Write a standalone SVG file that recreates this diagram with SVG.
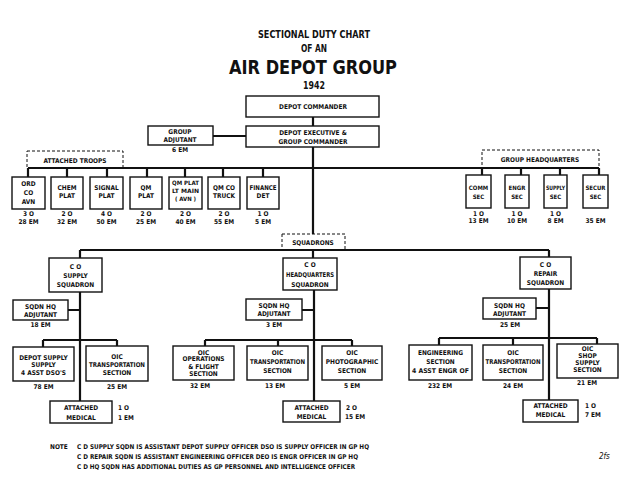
<svg xmlns="http://www.w3.org/2000/svg" width="640" height="479" viewBox="0 0 640 479">
<style>
text{font-family:"Liberation Sans Narrow","DejaVu Sans Condensed","Liberation Sans",sans-serif;font-weight:bold;fill:#111;text-anchor:middle;font-size:6.5px}
.box{fill:#fff;stroke:#111;stroke-width:1.4}
.dash{fill:none;stroke:#111;stroke-width:1;stroke-dasharray:3,2}
.ln{fill:none;stroke:#111;stroke-width:2.2}
.l{text-anchor:start}
.s{font-size:6px}
.t1{font-size:11px}
.t2{font-size:20px}
</style>
<rect width="640" height="479" fill="#fff"/>
<g id="title">
<text x="314" y="38" class="t1" textLength="112" lengthAdjust="spacingAndGlyphs">SECTIONAL DUTY CHART</text>
<text x="314" y="52" class="t1" textLength="26" lengthAdjust="spacingAndGlyphs">OF AN</text>
<text x="313" y="74" class="t2" textLength="168" lengthAdjust="spacingAndGlyphs">AIR DEPOT GROUP</text>
<text x="314" y="89" class="t1" textLength="22" lengthAdjust="spacingAndGlyphs">1942</text>
</g>
<g id="connectors">
<path class="ln" d="M313 117V126M313 147V234M313 250V258M213 136H246"/>
<path class="ln" d="M28 168H313M28 168V177M67 168V177M107 168V177M147 168V177M185 168V177M223 168V177M263 168V177"/>
<path class="ln" d="M313 168H599M482 168V175M521 168V175M560 168V175M599 168V175"/>
<path class="ln" d="M80 250H549M80 250V258M549 250V257"/>
<path class="ln" d="M80 292V401M68 310H80M43 340H117M43 340V347M117 340V346"/>
<path class="ln" d="M314 290V401M302 310H314M205 340H352M205 340V346M278 340V346M352 340V346"/>
<path class="ln" d="M549 289V400M536 308H549M439 338H597M439 338V345M513 338V345M597 338V344"/>
</g>
<g id="depot-commander"><rect class="box" x="246" y="96" width="133" height="21"/><text x="313" y="109">DEPOT  COMMANDER</text></g>
<g id="depot-executive"><rect class="box" x="246" y="126" width="133" height="21"/><text x="313" y="135">DEPOT EXECUTIVE &amp;</text><text x="313" y="144">GROUP COMMANDER</text></g>
<g id="group-adjutant"><rect class="box" x="148" y="126" width="65" height="19"/><text x="180" y="134">GROUP</text><text x="180" y="141.5">ADJUTANT</text><text x="180" y="152">6 EM</text></g>
<g id="attached-troops"><rect class="dash" x="27" y="151" width="96" height="17"/><text x="75" y="163">ATTACHED TROOPS</text></g>
<g id="ord-co"><rect class="box" x="12" y="177" width="33" height="32"/><text x="28.5" y="186">ORD</text><text x="28.5" y="195">CO</text><text x="28.5" y="204">AVN</text><text x="28.5" y="216">3 O</text><text x="28.5" y="224">28 EM</text></g>
<g id="chem-plat"><rect class="box" x="51" y="177" width="32" height="32"/><text x="67" y="190">CHEM</text><text x="67" y="198">PLAT</text><text x="67" y="216">2 O</text><text x="67" y="224">32 EM</text></g>
<g id="signal-plat"><rect class="box" x="90" y="177" width="33" height="32"/><text x="106.5" y="190">SIGNAL</text><text x="106.5" y="198">PLAT</text><text x="106.5" y="216">4 O</text><text x="106.5" y="224">50 EM</text></g>
<g id="qm-plat"><rect class="box" x="130" y="177" width="32" height="32"/><text x="146" y="190">QM</text><text x="146" y="198">PLAT</text><text x="146" y="216">2 O</text><text x="146" y="224">25 EM</text></g>
<g id="qm-plat-lt"><rect class="box" x="169" y="177" width="33" height="32"/><text x="185.5" y="185" class="s" textLength="27" lengthAdjust="spacingAndGlyphs">QM PLAT</text><text x="185.5" y="193" class="s" textLength="27" lengthAdjust="spacingAndGlyphs">LT MAIN</text><text x="185.5" y="201" class="s">( AVN )</text><text x="185.5" y="216">2 O</text><text x="185.5" y="224">40 EM</text></g>
<g id="qm-co-truck"><rect class="box" x="208" y="177" width="32" height="32"/><text x="224" y="190">QM CO</text><text x="224" y="198">TRUCK</text><text x="224" y="216">2 O</text><text x="224" y="224">55 EM</text></g>
<g id="finance-det"><rect class="box" x="247" y="177" width="32" height="32"/><text x="263" y="190" textLength="27" lengthAdjust="spacingAndGlyphs">FINANCE</text><text x="263" y="198">DET</text><text x="263" y="216">1 O</text><text x="263" y="224">5 EM</text></g>
<g id="group-headquarters"><rect class="dash" x="482" y="150" width="117" height="18"/><text x="540" y="162">GROUP HEADQUARTERS</text></g>
<g id="comm-sec"><rect class="box" x="466" y="175" width="25" height="33"/><text x="478.5" y="190" class="s">COMM</text><text x="478.5" y="199" class="s">SEC</text><text x="478.5" y="216">1 O</text><text x="478.5" y="223">13 EM</text></g>
<g id="engr-sec"><rect class="box" x="505" y="175" width="24" height="33"/><text x="517" y="190" class="s">ENGR</text><text x="517" y="199" class="s">SEC</text><text x="517" y="216">1 O</text><text x="517" y="223">10 EM</text></g>
<g id="supply-sec"><rect class="box" x="544" y="175" width="23" height="33"/><text x="555.5" y="190" class="s" textLength="19" lengthAdjust="spacingAndGlyphs">SUPPLY</text><text x="555.5" y="199" class="s">SEC</text><text x="555.5" y="216">1 O</text><text x="555.5" y="223">8 EM</text></g>
<g id="secur-sec"><rect class="box" x="583" y="175" width="25" height="33"/><text x="595.5" y="190" class="s">SECUR</text><text x="595.5" y="199" class="s">SEC</text><text x="595.5" y="223">35 EM</text></g>
<g id="squadrons"><rect class="dash" x="282" y="234" width="63" height="16"/><text x="313" y="245">SQUADRONS</text></g>
<g id="supply-squadron"><rect class="box" x="49" y="258" width="53" height="34"/><text x="75.5" y="269">C O</text><text x="75.5" y="277.5">SUPPLY</text><text x="75.5" y="286.5">SQUADRON</text></g>
<g id="supply-adjutant"><rect class="box" x="13" y="300" width="55" height="20"/><text x="40.5" y="309">SQDN HQ</text><text x="40.5" y="316.5">ADJUTANT</text><text x="40.5" y="327">18 EM</text></g>
<g id="depot-supply"><rect class="box" x="13" y="347" width="61" height="34"/><text x="43.5" y="359.5">DEPOT SUPPLY</text><text x="43.5" y="367">SUPPLY</text><text x="43.5" y="374.5">4 ASST DSO'S</text><text x="43.5" y="389">78 EM</text></g>
<g id="supply-transportation"><rect class="box" x="86" y="346" width="62" height="35"/><text x="117" y="359">OIC</text><text x="117" y="367" textLength="56" lengthAdjust="spacingAndGlyphs">TRANSPORTATION</text><text x="117" y="375">SECTION</text><text x="117" y="389">25 EM</text></g>
<g id="supply-medical"><rect class="box" x="50" y="401" width="62" height="22"/><text x="81" y="410">ATTACHED</text><text x="81" y="419.5">MEDICAL</text><text class="l" x="118" y="410">1 O</text><text class="l" x="118" y="419.5">1 EM</text></g>
<g id="hq-squadron"><rect class="box" x="283" y="258" width="54" height="32"/><text x="310" y="266.5">C O</text><text x="310" y="276.5" textLength="48" lengthAdjust="spacingAndGlyphs">HEADQUARTERS</text><text x="310" y="286.5">SQUADRON</text></g>
<g id="hq-adjutant"><rect class="box" x="246" y="299" width="56" height="21"/><text x="274" y="307.5">SQDN HQ</text><text x="274" y="315.5">ADJUTANT</text><text x="274" y="327">3 EM</text></g>
<g id="hq-operations"><rect class="box" x="173" y="346" width="61" height="34"/><text x="203.5" y="354.5">OIC</text><text x="203.5" y="361">OPERATIONS</text><text x="203.5" y="368.5">&amp; FLIGHT</text><text x="203.5" y="376">SECTION</text><text x="200" y="388">32 EM</text></g>
<g id="hq-transportation"><rect class="box" x="247" y="346" width="61" height="34"/><text x="277.5" y="354.5">OIC</text><text x="277.5" y="363.5" textLength="55" lengthAdjust="spacingAndGlyphs">TRANSPORTATION</text><text x="277.5" y="373">SECTION</text><text x="275" y="388">13 EM</text></g>
<g id="hq-photographic"><rect class="box" x="322" y="346" width="60" height="34"/><text x="352" y="354.5">OIC</text><text x="352" y="363.5">PHOTOGRAPHIC</text><text x="352" y="373">SECTION</text><text x="352" y="388">5 EM</text></g>
<g id="hq-medical"><rect class="box" x="283" y="401" width="57" height="21"/><text x="311.5" y="409.5">ATTACHED</text><text x="311.5" y="418.5">MEDICAL</text><text class="l" x="346" y="409.5">2 O</text><text class="l" x="345" y="418.5">15 EM</text></g>
<g id="repair-squadron"><rect class="box" x="520" y="257" width="51" height="32"/><text x="545.5" y="266.5">C O</text><text x="545.5" y="276">REPAIR</text><text x="545.5" y="284.5">SQUADRON</text></g>
<g id="repair-adjutant"><rect class="box" x="483" y="298" width="53" height="21"/><text x="509.5" y="307.5">SQDN HQ</text><text x="509.5" y="315.5">ADJUTANT</text><text x="510" y="327">25 EM</text></g>
<g id="repair-engineering"><rect class="box" x="409" y="345" width="63" height="35"/><text x="440.5" y="354.5">ENGINEERING</text><text x="440.5" y="363.5">SECTION</text><text x="440.5" y="372.5" textLength="57" lengthAdjust="spacingAndGlyphs">4 ASST ENGR OF</text><text x="440" y="388">232 EM</text></g>
<g id="repair-transportation"><rect class="box" x="483" y="345" width="60" height="35"/><text x="513" y="354.5">OIC</text><text x="513" y="363.5" textLength="55" lengthAdjust="spacingAndGlyphs">TRANSPORTATION</text><text x="513" y="372.5">SECTION</text><text x="513" y="388">24 EM</text></g>
<g id="repair-shop-supply"><rect class="box" x="557" y="344" width="61" height="34"/><text x="587.5" y="350.5">OIC</text><text x="587.5" y="357.5">SHOP</text><text x="587.5" y="364.5">SUPPLY</text><text x="587.5" y="372">SECTION</text><text x="587" y="385">21 EM</text></g>
<g id="repair-medical"><rect class="box" x="523" y="400" width="55" height="22"/><text x="550.5" y="407.5">ATTACHED</text><text x="550.5" y="416.5">MEDICAL</text><text class="l" x="585" y="407.5">1 O</text><text class="l" x="585" y="416.5">7 EM</text></g>
<g id="notes">
<text class="l" x="50" y="449">NOTE</text>
<text class="l" x="77" y="449" textLength="292" lengthAdjust="spacingAndGlyphs">C D  SUPPLY SQDN IS ASSISTANT DEPOT SUPPLY OFFICER  DSO IS SUPPLY OFFICER IN GP HQ</text>
<text class="l" x="77" y="459" textLength="281" lengthAdjust="spacingAndGlyphs">C D  REPAIR SQDN IS ASSISTANT ENGINEERING OFFICER  DEO IS ENGR OFFICER IN GP HQ</text>
<text class="l" x="77" y="469" textLength="278" lengthAdjust="spacingAndGlyphs">C D  HQ  SQDN HAS ADDITIONAL DUTIES AS GP PERSONNEL AND INTELLIGENCE OFFICER</text>
<text class="l" x="599" y="459" style="font-style:italic;font-weight:normal;font-size:8px">2fs</text>
</g>
</svg>
